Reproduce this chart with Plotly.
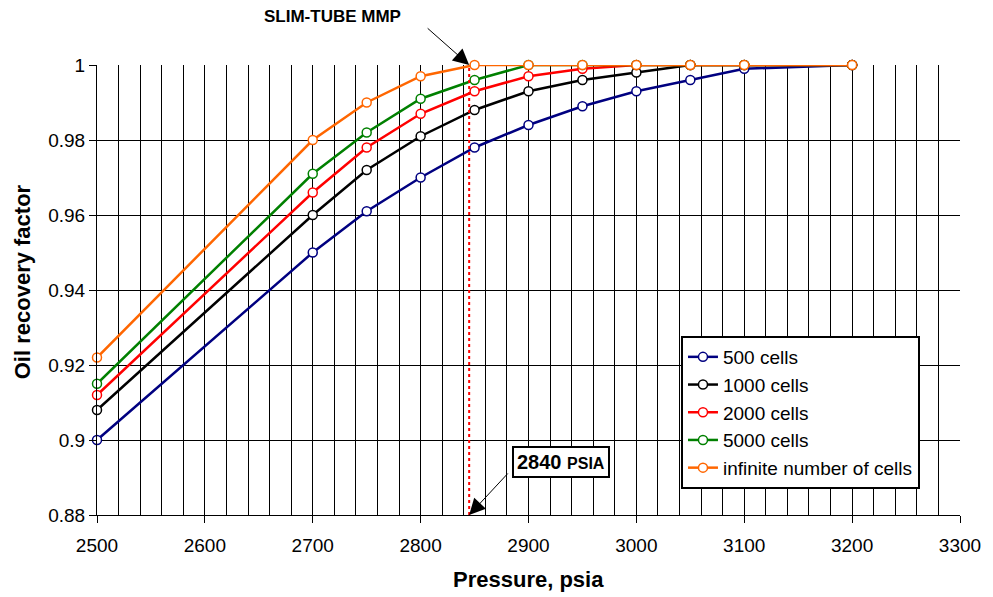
import plotly.graph_objects as go

pressure = [2500, 2700, 2750, 2800, 2850, 2900, 2950, 3000, 3050, 3100, 3200]
rf_500 = [0.900, 0.950, 0.961, 0.970, 0.978, 0.984, 0.989, 0.993, 0.996, 0.999, 1.000]
rf_1000 = [0.908, 0.960, 0.972, 0.981, 0.988, 0.993, 0.996, 0.998, 1.000, 1.000, 1.000]
rf_2000 = [0.912, 0.966, 0.978, 0.987, 0.993, 0.997, 0.999, 1.000, 1.000, 1.000, 1.000]
rf_5000 = [0.915, 0.971, 0.982, 0.991, 0.996, 1.000, 1.000, 1.000, 1.000, 1.000, 1.000]
rf_inf = [0.922, 0.980, 0.990, 0.997, 1.000, 1.000, 1.000, 1.000, 1.000, 1.000, 1.000]

series_names = ["500 cells", "1000 cells", "2000 cells", "5000 cells", "infinite number of cells"]
series_values = [rf_500, rf_1000, rf_2000, rf_5000, rf_inf]
series_colors = ["#000080", "#000000", "#FF0000", "#008000", "#FF6600"]

mmp_line_x = 2845
mmp_label = "2840"

x_ticks = [2500, 2600, 2700, 2800, 2900, 3000, 3100, 3200, 3300]
y_ticks = [0.88, 0.9, 0.92, 0.94, 0.96, 0.98, 1.0]
y_ticktext = ["0.88", "0.9", "0.92", "0.94", "0.96", "0.98", "1"]

FONT = "Liberation Sans, Arial, sans-serif"

# plot area in pixels
L, R, T, B = 97, 963, 65, 515
W, H = R - L, B - T


def px(xp):
    return (xp - L) / W


def py(yp):
    return 1 - (yp - T) / H


fig = go.Figure()
for name, vals, col in zip(series_names, series_values, series_colors):
    fig.add_trace(go.Scatter(
        x=pressure, y=vals, name=name, mode="lines+markers",
        line=dict(color=col, width=2.5),
        marker=dict(symbol="circle", size=9, color="white", line=dict(color=col, width=1.5)),
        cliponaxis=False,
    ))

fig.add_shape(type="line", xref="x", yref="y", x0=mmp_line_x, x1=mmp_line_x, y0=0.88, y1=1.0,
              line=dict(color="#FF0000", width=2, dash="dot"), layer="above")

# top label and arrow
fig.add_annotation(xref="paper", yref="paper", x=px(333), y=py(17), xanchor="center", yanchor="middle",
                   text="<b>SLIM-TUBE MMP</b>", showarrow=False,
                   font=dict(family=FONT, size=17, color="black"))
fig.add_annotation(xref="x", yref="y", x=mmp_line_x, y=1.0, text="", showarrow=True,
                   ax=-43, ay=-38, arrowhead=2, arrowsize=3.2, arrowwidth=1, arrowcolor="black")

# bottom boxed label and arrow
fig.add_annotation(xref="x", yref="y", x=mmp_line_x, y=0.88, text="", showarrow=True,
                   ax=40, ay=-43, arrowhead=2, arrowsize=3.2, arrowwidth=1, arrowcolor="black")
fig.add_annotation(xref="paper", yref="paper", x=px(562.5), y=py(461.5), xanchor="center", yanchor="middle",
                   text="<b>" + mmp_label + "</b> <b><span style='font-size:16px'>PSIA</span></b>",
                   showarrow=False, bordercolor="black", borderwidth=2, borderpad=3, bgcolor="white",
                   font=dict(family=FONT, size=20, color="black"))

# axis titles
fig.add_annotation(xref="paper", yref="paper", x=px(530), y=py(579), xanchor="center", yanchor="middle",
                   text="<b>Pressure, psia</b>", showarrow=False,
                   font=dict(family=FONT, size=22, color="black"))
fig.add_annotation(xref="paper", yref="paper", x=px(22), y=py(282), xanchor="center", yanchor="middle",
                   text="<b>Oil recovery factor</b>", showarrow=False, textangle=-90,
                   font=dict(family=FONT, size=22, color="black"))

fig.update_layout(
    width=993, height=597,
    margin=dict(l=L, r=993 - R, t=T, b=597 - B),
    paper_bgcolor="white", plot_bgcolor="white",
    font=dict(family=FONT, size=19, color="black"),
    showlegend=True,
    legend=dict(x=px(683), y=py(336), xanchor="left", yanchor="top",
                bgcolor="white", bordercolor="black", borderwidth=2,
                font=dict(family=FONT, size=19, color="black"),
                itemwidth=30),
    xaxis=dict(range=[2500, 3300], tickvals=x_ticks, ticks="outside", ticklen=7, tickcolor="black",
               showgrid=True, gridcolor="black", gridwidth=1,
               minor=dict(dtick=20, showgrid=True, gridcolor="black", gridwidth=1),
               showline=True, linecolor="black", linewidth=1, zeroline=False,
               ticklabelstandoff=6,
               tickfont=dict(family=FONT, size=19)),
    yaxis=dict(range=[0.88, 1.0], tickvals=y_ticks, ticktext=y_ticktext, ticks="outside", ticklen=7,
               tickcolor="black", showgrid=True, gridcolor="black", gridwidth=1,
               showline=True, linecolor="black", linewidth=1, zeroline=False,
               tickfont=dict(family=FONT, size=19)),
)

fig.write_html("out.html")
